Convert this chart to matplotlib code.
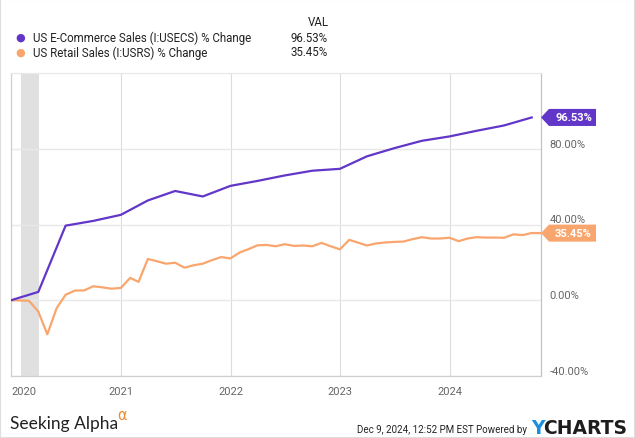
import numpy as np
import pandas as pd
import matplotlib
matplotlib.use('Agg')
import matplotlib.pyplot as plt
import matplotlib.dates as mdates
import matplotlib.transforms as mtransforms
from matplotlib.patches import Polygon, Rectangle

plt.rcParams['font.family'] = ['Roboto', 'DejaVu Sans']

W, H = 635, 439
PURPLE = '#6236c8'
ORANGE = '#f9a66e'

# quarterly e-commerce sales, % change since Q4 2019
ecom_dates = pd.date_range('2019-12-31', '2024-09-30', freq='QE')
ecom_vals = [0.0, 4.4, 39.4, 41.9, 45.1, 52.7, 57.7, 54.8, 60.4, 63.0,
             65.9, 68.4, 69.4, 76.0, 80.3, 84.2, 86.5, 89.5, 92.3, 96.53]

# monthly retail sales, % change since Dec 2019
retail_dates = pd.date_range('2019-12-31', '2024-10-31', freq='ME')
retail_vals = [0.0, -0.1, -0.3, -6.0, -18.0, -4.2, 2.9, 5.1, 5.2, 7.4,
               6.8, 6.1, 6.5, 11.8, 9.7, 21.8, 20.6, 19.3, 19.8, 17.2,
               18.5, 19.3, 21.2, 22.8, 22.1, 25.2, 26.9, 29.0, 29.2, 28.5,
               29.6, 28.7, 28.9, 28.5, 30.3, 28.5, 26.9, 31.9, 30.5, 28.9,
               30.0, 30.5, 30.8, 31.0, 32.3, 33.3, 32.6, 32.6, 33.0, 31.2,
               32.6, 33.3, 33.1, 33.1, 33.0, 34.8, 34.4, 35.5, 35.45]

series_names = ['US E-Commerce Sales (I:USECS) % Change',
                'US Retail Sales (I:USRS) % Change']
series_last = ['96.53%', '35.45%']
recession = ('2020-02-01', '2020-04-01')
yticks = [-40, 0, 40, 80, 120]
years = [2020, 2021, 2022, 2023, 2024]

fig = plt.figure(figsize=(W / 100, H / 100), dpi=100)
ax = fig.add_axes([11 / W, 1 - 377 / H, 530 / W, 303 / H])

ax.axvspan(pd.Timestamp(recession[0]), pd.Timestamp(recession[1]),
           color='#e0e0e0', lw=0, zorder=0)
ax.plot(retail_dates, retail_vals, color=ORANGE, lw=1.6, zorder=3,
        solid_joinstyle='round')
ax.plot(ecom_dates, ecom_vals, color=PURPLE, lw=1.6, zorder=4,
        solid_joinstyle='round')

ax.set_xlim(retail_dates[0], retail_dates[-1])
ax.set_ylim(-40, 120)

ax.yaxis.tick_right()
ax.set_yticks(yticks[:-1])
ax.set_yticklabels(['%.2f%%' % v for v in yticks[:-1]])
for lab in ax.get_yticklabels():
    lab.set_verticalalignment('bottom')
ax.tick_params(axis='y', length=0, pad=6, labelsize=8, labelcolor='#666666')

ax.set_xticks([pd.Timestamp('%d-01-01' % y) for y in years])
ax.set_xticklabels([str(y) for y in years])
ax.get_xticklabels()[0].set_horizontalalignment('left')
ax.tick_params(axis='x', length=0, pad=7, labelsize=8, labelcolor='#666666')

ax.grid(axis='y', color='#e8e8e8', lw=1)
ax.grid(axis='x', color='#dcdcdc', lw=0.8)
ax.set_axisbelow(True)
for side, col in [('left', '#d0d0d0'), ('bottom', '#cfcfcf'),
                  ('right', '#c4c4c4'), ('top', '#e8e8e8')]:
    ax.spines[side].set_color(col)
    ax.spines[side].set_linewidth(0.9)

# last value flags on the right
trans = mtransforms.blended_transform_factory(ax.transAxes, ax.transData)
for val, txt, col in [(ecom_vals[-1], series_last[0], PURPLE),
                      (retail_vals[-1], series_last[1], ORANGE)]:
    h = 4.5
    tip = 8 / 530
    end = 55 / 530
    poly = Polygon([(1.0, val), (1 + tip, val + h), (1 + end, val + h),
                    (1 + end, val - h), (1 + tip, val - h)],
                   closed=True, transform=trans, facecolor=col,
                   edgecolor='none', clip_on=False, zorder=5)
    ax.add_patch(poly)
    ax.text(1 + (tip + end) / 2 + 0.002, val, txt, transform=trans,
            ha='center', va='center', color='white', fontsize=8,
            fontweight='bold', clip_on=False, zorder=6)

# legend
for i, (name, last, col) in enumerate(zip(series_names, series_last,
                                           [PURPLE, ORANGE])):
    y = 1 - (38 + 15 * i) / H
    fig.text(20 / W, y, '\u25CF', color=col, fontsize=8, ha='center',
             va='center', family=['DejaVu Sans'])
    fig.text(33 / W, y, name, color='#222222', fontsize=8.3, ha='left',
             va='center')
    fig.text(328 / W, y, last, color='#222222', fontsize=8.3, ha='right',
             va='center')
fig.text(329 / W, 1 - 22 / H, 'VAL', color='#222222', fontsize=8.3,
         ha='right', va='center')

# footer
fig.text(10 / W, 1 - 429 / H, 'Seeking Alpha', fontsize=12.5, color='#222222',
         family=['Lato', 'DejaVu Sans'], ha='left', va='baseline')
fig.text(117 / W, 1 - 420 / H, '\u03b1', fontsize=10.5, color='#f08a2b',
         family=['DejaVu Sans'], ha='left', va='baseline')
fig.text(527 / W, 1 - 433 / H, 'Dec 9, 2024, 12:52 PM EST Powered by',
         fontsize=7, color='#222222', ha='right', va='baseline')
fig.text(531 / W, 1 - 434 / H, 'Y', fontsize=13.5, color='#1a8fe0',
         fontweight='bold', family=['DejaVu Sans'], ha='left', va='baseline')
fig.text(627 / W, 1 - 434 / H, 'CHARTS', fontsize=13.5, color='#1d1d1d',
         fontweight='bold', family=['DejaVu Sans'], ha='right', va='baseline')

fig.patches.append(Rectangle((0, 0), 1, 1, transform=fig.transFigure,
                             fill=False, edgecolor='#dddddd', lw=1.5))

fig.savefig('out.png', dpi=100)
